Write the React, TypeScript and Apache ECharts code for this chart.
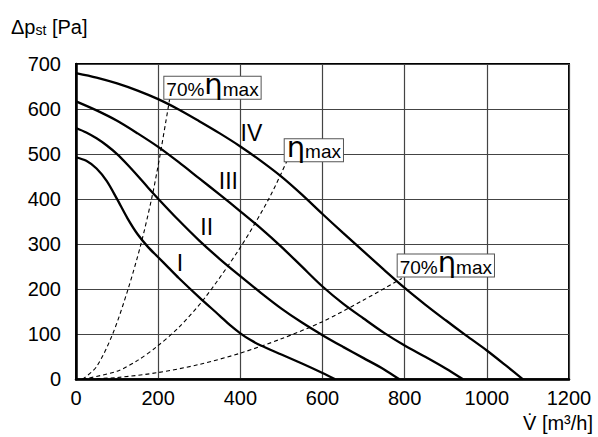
import React, { useEffect, useRef } from 'react';
import * as echarts from 'echarts';

const FONT = '"Liberation Sans", Arial, Helvetica, sans-serif';

// tick values
const xTicks = [0, 200, 400, 600, 800, 1000, 1200];
const yTicks = [0, 100, 200, 300, 400, 500, 600, 700];

// fan curves [V m3/h, dp Pa]
const curveI = [[0, 493], [25, 485], [50, 468], [75, 440], [100, 400], [125, 358], [150, 322], [175, 294], [200, 271], [225, 248], [250, 225], [300, 182], [350, 141], [375, 120], [400, 102], [425, 87], [450, 75], [500, 55], [550, 35], [600, 14], [631, 0]];
const curveII = [[0, 558], [25, 548], [50, 535], [75, 519], [100, 500], [125, 477], [150, 452], [175, 426], [200, 401], [250, 353], [300, 308], [350, 267], [400, 229], [450, 192], [500, 157], [550, 126], [600, 98], [650, 72], [700, 47], [750, 22], [787, 0]];
const curveIII = [[0, 617], [50, 597], [100, 574], [150, 546], [200, 516], [250, 482], [300, 446], [350, 410], [400, 373], [450, 335], [500, 294], [550, 250], [600, 206], [650, 168], [700, 135], [750, 103], [800, 75], [850, 50], [900, 24], [942, 0]];
const curveIV = [[0, 680], [50, 670], [100, 657], [150, 641], [200, 622], [250, 599], [300, 573], [350, 546], [400, 517], [450, 485], [500, 450], [550, 410], [600, 367], [650, 325], [700, 284], [750, 243], [800, 203], [850, 166], [900, 131], [950, 97], [1000, 64], [1050, 28], [1088, 0]];

// efficiency lines
const eff70Left = [[16, 0], [50, 28], [89, 100], [126, 198], [158, 300], [185, 405], [205, 500], [229, 628]];
const effMax = [[16, 0], [100, 18], [150, 42], [196, 72], [250, 115], [313, 180], [398, 290], [469, 400], [513, 484]];
const eff70Right = [[16, 0], [100, 4], [200, 15], [300, 33], [400, 58], [500, 90], [600, 128], [700, 176], [793, 224]];

// annotation anchors (lower-left corner of boxes) and curve names
const boxTexts = ['{a|70%}{e|η}{b|max}', '{e|η}{b|max}', '{a|70%}{e|η}{b|max}'];
const boxAnchors = [[215, 623], [508, 484], [783, 228]];
const curveNames = ['I', 'II', 'III', 'IV'];
const curveNameAnchors = [[253, 259], [318, 338], [371, 440], [427, 547]];

function lineSeries(data: number[][], dashed: boolean) {
  return {
    type: 'line',
    data,
    smooth: 0.3,
    showSymbol: false,
    symbol: 'none',
    silent: true,
    lineStyle: dashed
      ? { color: '#000', width: 1.1, type: [4, 3] }
      : { color: '#000', width: 2.3 },
    z: dashed ? 3 : 4,
  };
}

const tok = (size: number, family: string) => ({
  fontSize: size,
  fontFamily: family,
  fill: '#000',
  lineHeight: 21,
  verticalAlign: 'bottom',
});

export default function App() {
  const ref = useRef<HTMLDivElement>(null);
  useEffect(() => {
    document.body.style.margin = '0';
    const chart = echarts.init(ref.current!, null, { renderer: 'svg' });
    chart.setOption({
      animation: false,
      grid: {
        left: 76,
        right: 29,
        top: 64,
        bottom: 57.7,
        show: true,
        borderColor: '#000',
        borderWidth: 2,
        backgroundColor: 'transparent',
      },
      xAxis: {
        type: 'value',
        min: xTicks[0],
        max: xTicks[xTicks.length - 1],
        interval: xTicks[1] - xTicks[0],
        axisLine: { show: true, lineStyle: { color: '#000', width: 2.5 } },
        axisTick: { show: false },
        splitLine: { show: true, lineStyle: { color: '#444', width: 1.2 } },
        axisLabel: {
          color: '#000',
          fontSize: 20,
          fontFamily: FONT,
          margin: 9,
          formatter: (v: number) => String(v),
        },
      },
      yAxis: {
        type: 'value',
        min: yTicks[0],
        max: yTicks[yTicks.length - 1],
        interval: yTicks[1] - yTicks[0],
        axisLine: { show: true, lineStyle: { color: '#000', width: 2.5 } },
        axisTick: { show: false },
        splitLine: { show: true, lineStyle: { color: '#444', width: 1.2 } },
        axisLabel: {
          color: '#000',
          fontSize: 20,
          fontFamily: FONT,
          margin: 15,
          formatter: (v: number) => String(v),
        },
      },
      series: [
        lineSeries(eff70Left, true),
        lineSeries(effMax, true),
        lineSeries(eff70Right, true),
        lineSeries(curveI, false),
        lineSeries(curveII, false),
        lineSeries(curveIII, false),
        lineSeries(curveIV, false),
      ],
    });

    const toPx = (c: number[]) => chart.convertToPixel({ gridIndex: 0 }, c) as number[];
    const boxes = boxAnchors.map((c, i) => {
      const p = toPx(c);
      return {
        type: 'text',
        x: p[0],
        y: p[1],
        z: 100,
        style: {
          text: boxTexts[i],
          align: 'left',
          verticalAlign: 'bottom',
          backgroundColor: '#fff',
          borderColor: '#555',
          borderWidth: 1,
          padding: [1, 2, 0, 2],
          rich: {
            a: tok(19, FONT),
            e: tok(29, '"DejaVu Sans", sans-serif'),
            b: tok(19, FONT),
          },
        },
      };
    });
    const names = curveNameAnchors.map((c, i) => {
      const p = toPx(c);
      return {
        type: 'text',
        x: p[0],
        y: p[1],
        z: 100,
        style: {
          text: curveNames[i],
          align: 'center',
          verticalAlign: 'middle',
          fill: '#000',
          fontSize: 23,
          fontFamily: FONT,
        },
      };
    });

    chart.setOption({
      graphic: [
        ...boxes,
        ...names,
        {
          type: 'text',
          left: 11,
          top: 17,
          style: {
            text: '{a|Δp}{s|st}{a| [Pa]}',
            rich: {
              a: { fontSize: 20, fontFamily: FONT, fill: '#000', lineHeight: 24, verticalAlign: 'bottom' },
              s: { fontSize: 14, fontFamily: FONT, fill: '#000', lineHeight: 17, verticalAlign: 'bottom' },
            },
          },
        },
        {
          type: 'text',
          right: 5,
          top: 413,
          style: {
            text: 'V\u0307 [m³/h]',
            fontSize: 20,
            fontFamily: FONT,
            fill: '#000',
          },
        },
      ],
    });
    return () => chart.dispose();
  }, []);
  return <div ref={ref} style={{ width: 598, height: 437 }} />;
}
